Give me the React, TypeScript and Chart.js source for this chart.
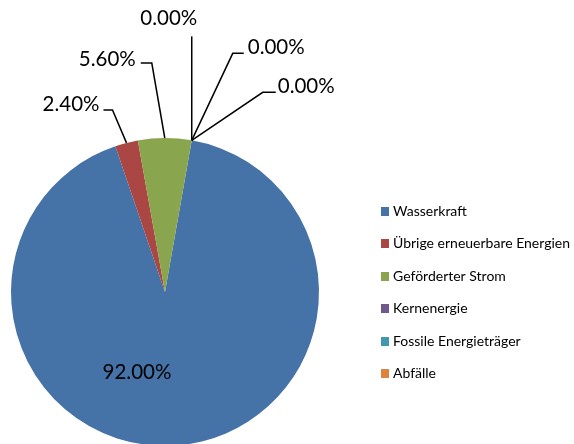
import React, { useEffect, useRef } from "react";
import { Chart, registerables } from "chart.js";

Chart.register(...registerables);

const categories = [
  "Wasserkraft",
  "Übrige erneuerbare Energien",
  "Geförderter Strom",
  "Kernenergie",
  "Fossile Energieträger",
  "Abfälle",
];
const shares = [92.0, 2.4, 5.6, 0, 0, 0];
const colors = ["#4572A7", "#AA4643", "#89A54E", "#71588F", "#4198AF", "#DB843D"];

// leader-line layout for each data label (relative to the arc's outer mid point)
const labelLayout = [
  { inside: true, dx: -28, dy: 80 },
  { elbowDx: -14, elbowDy: -33, hLen: -9, gap: 4, base: 1 },
  { elbowDx: -13, elbowDy: -75, hLen: -11, gap: 5, base: 3 },
  { elbowDx: 0, elbowDy: -104, hLen: 0, gap: 0, base: 0, top: true, textDx: -23, textDy: -11 },
  { elbowDx: 41, elbowDy: -87, hLen: 11, gap: 4, base: 1 },
  { elbowDx: 71, elbowDy: -48, hLen: 13, gap: 2, base: 1 },
];

const LABEL_FONT = "20.5px Lato";
const LEGEND_FONT = "14px Lato";

const labelPlugin = {
  id: "pieLabels",
  afterDraw(chart: any) {
    const ctx = chart.ctx;
    const meta = chart.getDatasetMeta(0);
    const values = chart.data.datasets[0].data as number[];
    ctx.save();
    ctx.font = LABEL_FONT;
    ctx.fillStyle = "#000";
    ctx.strokeStyle = "#000";
    ctx.lineWidth = 1.5;
    meta.data.forEach((arc: any, i: number) => {
      const p = arc.getProps(["x", "y", "startAngle", "endAngle", "outerRadius"], true);
      const mid = (p.startAngle + p.endAngle) / 2;
      const ax = p.x + Math.cos(mid) * p.outerRadius;
      const ay = p.y + Math.sin(mid) * p.outerRadius;
      const text = values[i].toFixed(2) + "%";
      const L: any = labelLayout[i];
      if (L.inside) {
        ctx.textAlign = "center";
        ctx.textBaseline = "middle";
        ctx.fillText(text, p.x + L.dx, p.y + L.dy);
        return;
      }
      const ex = ax + L.elbowDx;
      const ey = ay + L.elbowDy;
      const hx = ex + L.hLen;
      ctx.beginPath();
      ctx.moveTo(ax, ay);
      ctx.lineTo(ex, ey);
      if (L.hLen !== 0) ctx.lineTo(hx, ey);
      ctx.stroke();
      ctx.textBaseline = "alphabetic";
      if (L.top) {
        ctx.textAlign = "center";
        ctx.fillText(text, ex + L.textDx, ey + L.textDy);
      } else if (L.hLen < 0) {
        ctx.textAlign = "right";
        ctx.fillText(text, hx - L.gap, ey + L.base);
      } else {
        ctx.textAlign = "left";
        ctx.fillText(text, hx + L.gap, ey + L.base);
      }
    });
    // legend
    const labels = chart.data.labels as string[];
    const bg = chart.data.datasets[0].backgroundColor as string[];
    ctx.font = LEGEND_FONT;
    ctx.textAlign = "left";
    ctx.textBaseline = "middle";
    const lx = 381;
    const ly = 211.5;
    const step = 32.4;
    labels.forEach((lab, i) => {
      const cy = ly + i * step;
      ctx.fillStyle = bg[i];
      ctx.fillRect(lx, Math.round(cy - 4.5), 8, 9);
      ctx.fillStyle = "#000";
      ctx.fillText(lab, lx + 12, cy);
    });
    ctx.restore();
  },
};

export default function App() {
  const ref = useRef<HTMLCanvasElement | null>(null);
  useEffect(() => {
    if (!ref.current) return;
    const chart = new Chart(ref.current, {
      type: "pie",
      data: {
        labels: categories,
        datasets: [
          {
            data: shares,
            backgroundColor: colors,
            borderWidth: 0,
            hoverOffset: 0,
            offset: 0,
          },
        ],
      },
      options: {
        animation: false,
        responsive: false,
        devicePixelRatio: 1,
        rotation: 10,
        layout: { padding: { left: 11, top: 138, right: 255, bottom: 14 } },
        plugins: {
          legend: { display: false },
          tooltip: { enabled: false },
        },
        events: [],
      },
      plugins: [labelPlugin],
    });
    return () => chart.destroy();
  }, []);
  return (
    <div style={{ position: "fixed", left: 0, top: 0, width: 574, height: 460, background: "#fff" }}>
      <canvas ref={ref} width={574} height={460} style={{ width: 574, height: 460 }} />
    </div>
  );
}
